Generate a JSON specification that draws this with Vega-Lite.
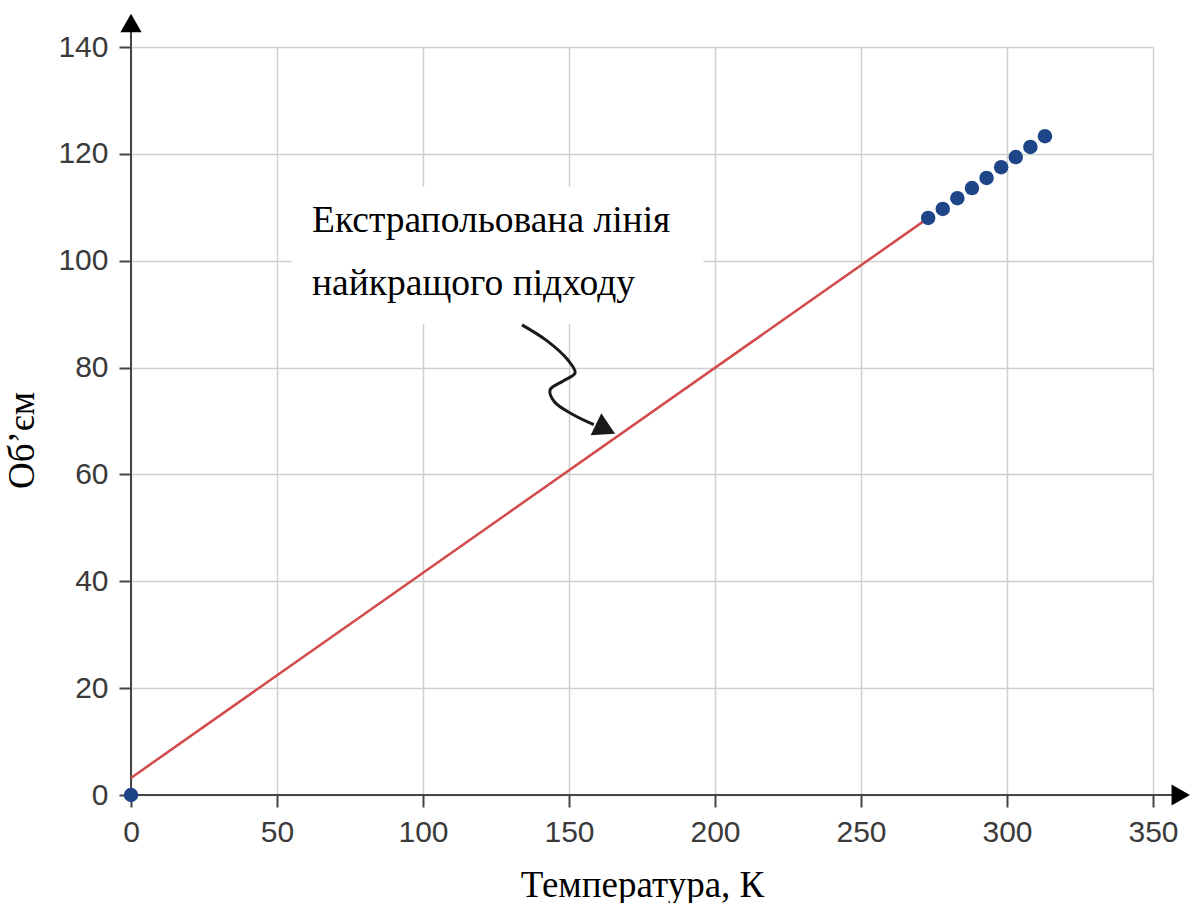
{
  "$schema": "https://vega.github.io/schema/vega-lite/v6.json",
  "width": 1022,
  "height": 748,
  "autosize": {"type": "none"},
  "padding": {"left": 131, "top": 47, "right": 40, "bottom": 108},
  "background": "white",
  "config": {
    "view": {"stroke": null},
    "axis": {
      "labelFont": "Liberation Sans",
      "labelFontSize": 30,
      "labelColor": "#3a3a3a",
      "labelFlush": false,
      "gridColor": "#cfcfcf",
      "gridWidth": 1.5,
      "tickColor": "#444",
      "tickWidth": 2,
      "tickSize": 12,
      "domain": false,
      "titleFont": "Liberation Serif",
      "titleFontWeight": "normal",
      "titleFontSize": 37,
      "titleColor": "#000"
    }
  },
  "datasets": {
    "measured": [
      {"T": 0, "V": 0},
      {"T": 273, "V": 108.0},
      {"T": 278, "V": 109.7},
      {"T": 283, "V": 111.7},
      {"T": 288, "V": 113.6},
      {"T": 293, "V": 115.5},
      {"T": 298, "V": 117.5},
      {"T": 303, "V": 119.4},
      {"T": 308, "V": 121.3},
      {"T": 313, "V": 123.3}
    ],
    "fit": [
      {"T": 0, "V": 3.2},
      {"T": 272, "V": 107.6}
    ],
    "box": [
      {"x1": 55, "x2": 196, "y1": 88.2, "y2": 113.8}
    ],
    "label": [
      {"x": 62, "y": 105.4, "text": "Екстрапольована лінія"},
      {"x": 62, "y": 93.6, "text": "найкращого підходу"}
    ],
    "arrow": [
      {"i": 0, "x": 133.9, "y": 88.0},
      {"i": 1, "x": 142.5, "y": 85.0},
      {"i": 2, "x": 149.5, "y": 81.5},
      {"i": 3, "x": 152.1, "y": 79.0},
      {"i": 4, "x": 148.0, "y": 77.5},
      {"i": 5, "x": 143.5, "y": 75.8},
      {"i": 6, "x": 145.0, "y": 73.6},
      {"i": 7, "x": 151.0, "y": 71.3},
      {"i": 8, "x": 158.5, "y": 69.3}
    ],
    "arrowhead": [
      {"x": 162.5, "y": 68.5}
    ],
    "origin": [
      {"x": 0, "y": 0}
    ]
  },
  "layer": [
    {
      "data": {"name": "measured"},
      "mark": {"type": "point", "opacity": 0},
      "encoding": {
        "x": {
          "field": "T", "type": "quantitative",
          "scale": {"domain": [0, 350], "nice": false, "zero": false},
          "axis": {"values": [0, 50, 100, 150, 200, 250, 300, 350], "title": "Температура, К", "labelPadding": 10, "titlePadding": 20}
        },
        "y": {
          "field": "V", "type": "quantitative",
          "scale": {"domain": [0, 140], "nice": false, "zero": false},
          "axis": {"values": [0, 20, 40, 60, 80, 100, 120, 140], "title": "Об’єм", "labelPadding": 11, "titleX": -90, "titleY": 393}
        }
      }
    },
    {
      "data": {"name": "box"},
      "mark": {"type": "rect", "fill": "white"},
      "encoding": {
        "x": {"field": "x1", "type": "quantitative"},
        "x2": {"field": "x2"},
        "y": {"field": "y1", "type": "quantitative"},
        "y2": {"field": "y2"}
      }
    },
    {
      "data": {"name": "label"},
      "mark": {"type": "text", "align": "left", "baseline": "alphabetic", "font": "Liberation Serif", "fontSize": 37.5, "color": "#000"},
      "encoding": {
        "x": {"field": "x", "type": "quantitative"},
        "y": {"field": "y", "type": "quantitative"},
        "text": {"field": "text"}
      }
    },
    {
      "data": {"name": "origin"},
      "mark": {"type": "rule", "color": "#444", "strokeWidth": 2},
      "encoding": {
        "x": {"field": "x", "type": "quantitative"},
        "x2": {"datum": 359},
        "y": {"field": "y", "type": "quantitative"}
      }
    },
    {
      "data": {"name": "origin"},
      "mark": {"type": "rule", "color": "#444", "strokeWidth": 2},
      "encoding": {
        "x": {"field": "x", "type": "quantitative"},
        "y": {"field": "y", "type": "quantitative"},
        "y2": {"datum": 144}
      }
    },
    {
      "data": {"name": "origin"},
      "mark": {"type": "point", "shape": "triangle-right", "filled": true, "color": "#000", "size": 450, "opacity": 1},
      "encoding": {
        "x": {"datum": 359.5},
        "y": {"field": "y", "type": "quantitative"}
      }
    },
    {
      "data": {"name": "origin"},
      "mark": {"type": "point", "shape": "triangle-up", "filled": true, "color": "#000", "size": 450, "opacity": 1},
      "encoding": {
        "x": {"field": "x", "type": "quantitative"},
        "y": {"datum": 144.5}
      }
    },
    {
      "data": {"name": "fit"},
      "mark": {"type": "line", "color": "#d24a4a", "strokeWidth": 2.5},
      "encoding": {
        "x": {"field": "T", "type": "quantitative"},
        "y": {"field": "V", "type": "quantitative"}
      }
    },
    {
      "data": {"name": "arrow"},
      "mark": {"type": "line", "color": "#1a1a1a", "strokeWidth": 3, "interpolate": "catmull-rom"},
      "encoding": {
        "x": {"field": "x", "type": "quantitative"},
        "y": {"field": "y", "type": "quantitative"},
        "order": {"field": "i"}
      }
    },
    {
      "data": {"name": "arrowhead"},
      "mark": {"type": "point", "shape": "triangle-right", "filled": true, "color": "#1a1a1a", "size": 600, "angle": 26, "opacity": 1},
      "encoding": {
        "x": {"field": "x", "type": "quantitative"},
        "y": {"field": "y", "type": "quantitative"}
      }
    },
    {
      "data": {"name": "measured"},
      "mark": {"type": "circle", "color": "#1d4587", "size": 210, "opacity": 1},
      "encoding": {
        "x": {"field": "T", "type": "quantitative"},
        "y": {"field": "V", "type": "quantitative"}
      }
    }
  ]
}
